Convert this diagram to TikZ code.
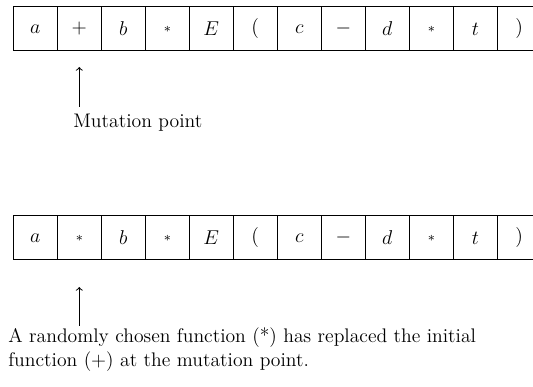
\documentclass[tikz,border=0pt]{standalone}
\usetikzlibrary{positioning}
\tikzstyle{cell}=[draw,line width=0.6pt,minimum size=26.4pt,inner sep=0pt]
\newcommand{\stringrow}[3]{\foreach \s [count=\i] in {#3} \node[cell] (#1\i) at ({35.3+44*(\i-1)},#2) {$\s$};}

\begin{document}
\begin{tikzpicture}[x=0.6pt,y=-0.6pt,>=to,font=\fontsize{11.8}{14.4}\selectfont]
  \useasboundingbox (0,0) rectangle (533,387);

        % before mutation
        \stringrow{t}{29}{a,+,b,{\scriptstyle\ast},E,{(},c,-,d,{\scriptstyle\ast},t,{)}}
        \coordinate (tip1) at (79.3,67);
        \coordinate (tail1) at (79.3,107);
        \node[anchor=base west,inner sep=0pt] (note1) at (73,128) {Mutation point};
        \draw[->,line width=0.6pt] (tail1) -- (tip1);

        % after mutation
        \stringrow{b}{238}{a,{\scriptstyle\ast},b,{\scriptstyle\ast},E,{(},c,-,d,{\scriptstyle\ast},t,{)}}
        \coordinate (tip2) at (79.3,287);
        \coordinate (tail2) at (79.3,326);
        \node[anchor=base west,inner sep=0pt,align=left] (note2) at (8,367)
          {A randomly chosen function (*) has replaced the initial\\function (+) at the mutation point.};
        \draw[->,line width=0.6pt] (tail2) -- (tip2);
\end{tikzpicture}
\end{document}
